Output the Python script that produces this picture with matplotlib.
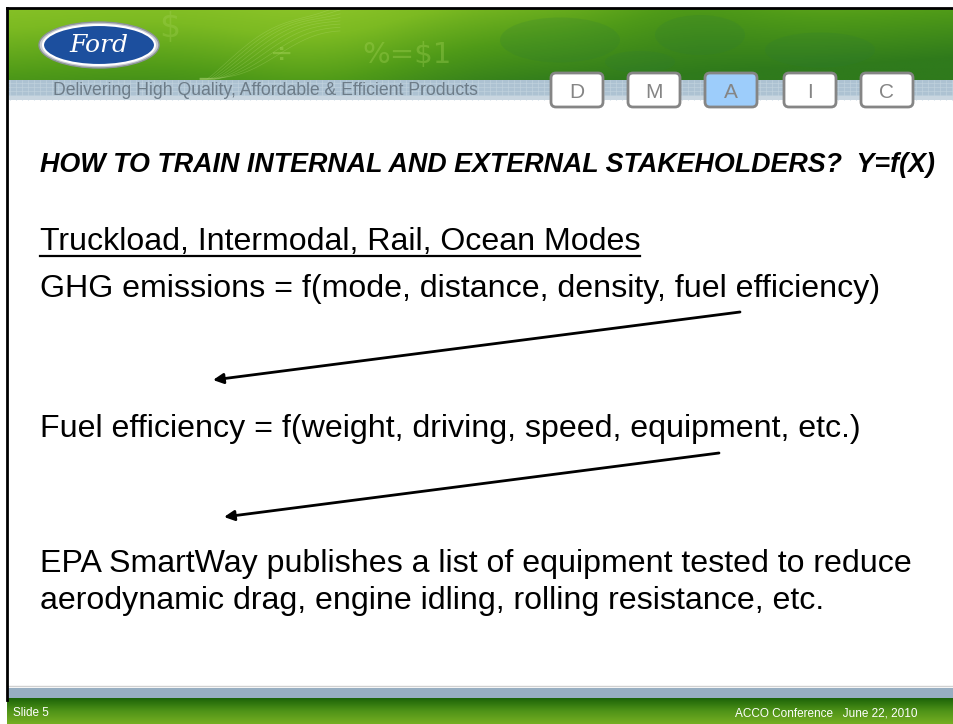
import numpy as np
import matplotlib.pyplot as plt
from matplotlib.patches import Rectangle, FancyBboxPatch, Ellipse
from matplotlib.colors import LinearSegmentedColormap

# slide content
header_tag = "Delivering High Quality, Affordable & Efficient Products"
dmaic = ["D", "M", "A", "I", "C"]
active_step = "A"
question = "HOW TO TRAIN INTERNAL AND EXTERNAL STAKEHOLDERS?  Y=f(X)"
modes_heading = "Truckload, Intermodal, Rail, Ocean Modes"
body_lines = [
    "GHG emissions = f(mode, distance, density, fuel efficiency)",
    "Fuel efficiency = f(weight, driving, speed, equipment, etc.)",
    "EPA SmartWay publishes a list of equipment tested to reduce",
    "aerodynamic drag, engine idling, rolling resistance, etc.",
]
footer_left = "Slide 5"
footer_right = "ACCO Conference   June 22, 2010"

W, H = 954, 724
fig = plt.figure(figsize=(9.54, 7.24), dpi=100)
ax = fig.add_axes([0, 0, 1, 1])
ax.set_xlim(0, W)
ax.set_ylim(H, 0)
ax.axis("off")

sans = ["Liberation Sans", "DejaVu Sans"]


def width_of(t):
    fig.canvas.draw()
    bb = t.get_window_extent().transformed(ax.transData.inverted())
    return bb.x0, bb.x1


def fit_size(texts, rights, base=20.0):
    # one shared font size so the lines end where they end on the slide
    ratios = []
    for t, r in zip(texts, rights):
        x0, x1 = width_of(t)
        ratios.append((r - t.get_position()[0]) / (x1 - x0))
    size = base * float(np.mean(ratios))
    for t in texts:
        t.set_fontsize(size)
    return size


# header green band
yy = np.linspace(0, 1, 80)[:, None]
xx = np.linspace(0, 1, 300)[None, :]
green = LinearSegmentedColormap.from_list("g", ["#2f7a1c", "#4f9a18", "#7cba22", "#93c92c"])
val = (0.8 - 0.5 * yy - 0.45 * xx
       + 0.2 * np.exp(-((xx - 0.33) ** 2) / 0.015)
       - 0.15 * np.exp(-((xx - 0.72) ** 2) / 0.01) * (1 - yy))
ax.imshow(np.clip(val, 0, 1), cmap=green, vmin=0, vmax=1, aspect="auto",
          extent=(7, W, 80, 9), zorder=1)
# faint decorations in header: fanned curves, map blobs, symbols
for k in range(8):
    cx = np.linspace(200, 340, 40)
    cy = 78 - (cx - 200) * (0.30 + 0.04 * k) + 8 * np.sin((cx - 200) / 25.0 + k * 0.3)
    cy = np.clip(cy, 10, 79)
    ax.plot(cx, cy, color="#c6e58a", lw=0.5, alpha=0.25, zorder=2)
for mx, my, mw, mh in [(560, 40, 120, 45), (700, 35, 90, 40), (820, 50, 110, 35), (640, 62, 70, 22)]:
    ax.add_patch(Ellipse((mx, my), mw, mh, facecolor="#2d7a3a", edgecolor="none",
                         alpha=0.18, zorder=2))
ax.text(282, 55, "÷", fontsize=20, color="#a6d45a", alpha=0.45, ha="center", va="center", zorder=2)
ax.text(362, 55, "%=$1", fontsize=21, color="#a6d45a", alpha=0.35, ha="left", va="center", zorder=2)
ax.text(170, 28, "$", fontsize=24, color="#a6d45a", alpha=0.3, ha="center", va="center", zorder=2)

# blue-grey strip with faint grid
ax.add_patch(Rectangle((7, 80), W - 7, 20, facecolor="#adc2d2", edgecolor="none", zorder=2))
for gx in np.arange(10, W, 6):
    ax.plot([gx, gx], [80, 100], color="#c4d4e0", lw=0.4, zorder=2)
for gy in np.arange(83, 100, 4):
    ax.plot([7, W], [gy, gy], color="#c4d4e0", lw=0.4, zorder=2)
ax.add_patch(Rectangle((7, 96), W - 7, 4, facecolor="#c9d6e0", edgecolor="none", zorder=2))

tag = ax.text(53, 95, header_tag, fontsize=12.5, family=sans, color="#6d7c88",
              ha="left", va="baseline", zorder=3)
fit_size([tag], [480], base=12.5)

# DMAIC boxes
box_left = [551, 628, 705, 784, 861]
for letter, bx in zip(dmaic, box_left):
    fc = "#9dcdfb" if letter == active_step else "white"
    ax.add_patch(FancyBboxPatch((bx, 73), 52, 34, boxstyle="round,pad=0,rounding_size=5",
                                facecolor=fc, edgecolor="#858585", lw=2, zorder=4))
    ax.text(bx + 26, 98, letter, fontsize=15, family=sans, color="#858585",
            ha="center", va="baseline", zorder=5)

# Ford logo
ax.add_patch(Ellipse((99, 45), 120, 46, facecolor="#c9ccd2", edgecolor="#8d939c", lw=1, zorder=4))
ax.add_patch(Ellipse((99, 45), 112, 40, facecolor="#1c4f9e", edgecolor="white", lw=1.5, zorder=5))
ax.text(99, 46, "Ford", fontsize=18, family=["DejaVu Serif"], style="italic",
        color="white", ha="center", va="center", zorder=6)

# slide frame
ax.plot([7, 7], [8, 700], color="black", lw=2, zorder=6)
ax.plot([7, W], [8, 8], color="black", lw=2, zorder=6)

# body text
left = 40
q = ax.text(left, 172, question, fontsize=18, family=sans, weight="bold", style="italic",
            color="black", ha="left", va="baseline", zorder=5)
fit_size([q], [935], base=18)

head = ax.text(left, 250, modes_heading, fontsize=20, family=sans, color="black",
               ha="left", va="baseline", zorder=5)
body_y = [297, 437, 572, 609]
body = [ax.text(left, by, line, fontsize=20, family=sans, color="black",
                ha="left", va="baseline", zorder=5)
        for line, by in zip(body_lines, body_y)]
fit_size([head] + body, [639, 877, 857, 913, 820])
hx0, hx1 = width_of(head)
ax.plot([left, hx1], [255.5, 255.5], color="black", lw=1.6, zorder=5)

arrows = [((740, 312), (213, 380)), ((719, 453), (224, 517))]
for (x0, y0), (x1, y1) in arrows:
    ax.annotate("", xy=(x1, y1), xytext=(x0, y0),
                arrowprops=dict(arrowstyle="-|>", color="black", lw=2.0,
                                mutation_scale=15, shrinkA=0, shrinkB=0), zorder=5)

# footer
ax.plot([7, W], [686, 686], color="#d0d0d0", lw=1, zorder=3)
ax.add_patch(Rectangle((7, 688), W - 7, 10, facecolor="#97aec1", edgecolor="none", zorder=3))
fy = np.linspace(0, 1, 30)[:, None] * np.ones((1, 10))
fgreen = LinearSegmentedColormap.from_list("fg", ["#1d6409", "#4f9318", "#74ae22"])
ax.imshow(fy, cmap=fgreen, aspect="auto", extent=(7, W, H, 698), zorder=3)
ax.text(13, 716, footer_left, fontsize=8.5, family=sans, color="white",
        ha="left", va="baseline", zorder=5)
ax.text(918, 716, footer_right, fontsize=8.5, family=sans, color="white",
        ha="right", va="baseline", zorder=5)

ax.set_xlim(0, W)
ax.set_ylim(H, 0)
fig.savefig("out.png", dpi=100, facecolor="white")
